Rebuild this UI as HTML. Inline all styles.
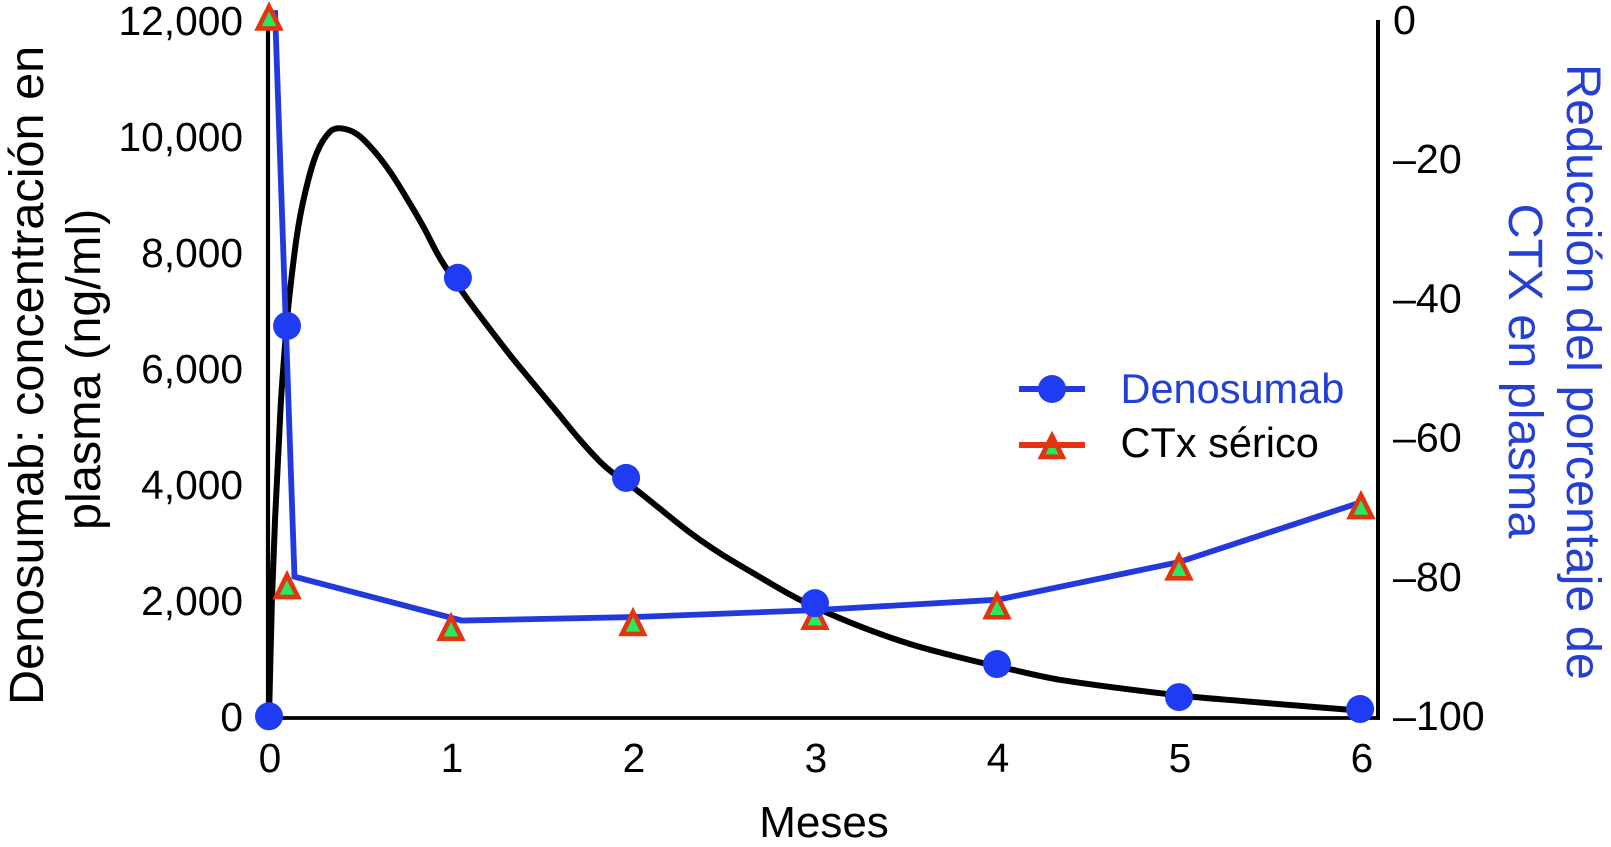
<!DOCTYPE html>
<html lang="es">
<head>
<meta charset="utf-8">
<title>Denosumab y CTx sérico</title>
<style>
html,body{margin:0;padding:0;background:#fff;}
body{width:1611px;height:847px;overflow:hidden;}
svg{display:block;}
text{font-family:"Liberation Sans",Arial,sans-serif;fill:#000;}
</style>
</head>
<body>
<svg id="chart" xmlns="http://www.w3.org/2000/svg" width="1611" height="847" viewBox="0 0 1611 847">
  <rect x="0" y="0" width="1611" height="847" fill="#ffffff"/>
  <g id="axes"></g>
  <g id="ticks"></g>
  <g id="marks"></g>

  <text transform="translate(43,705) rotate(-90)" font-size="48.6">Denosumab: concentración en</text>
  <text transform="translate(100,530) rotate(-90)" font-size="48.6">plasma (ng/ml)</text>
  <text transform="translate(1567,64) rotate(90)" font-size="48.6" style="fill:#2440d4">Reducción del porcentaje de</text>
  <text transform="translate(1509,203.5) rotate(90)" font-size="48.6" style="fill:#2440d4">CTX en plasma</text>
  <text x="824" y="837" font-size="44" text-anchor="middle">Meses</text>

  <g>
    <g>
      <line x1="1019" y1="389" x2="1085" y2="389" stroke="#2239dc" stroke-width="6"/>
      <circle cx="1052" cy="389" r="14" fill="#1f3cf2"/>
      <text x="1120.5" y="403" font-size="41.5" style="fill:#2440d4">Denosumab</text>
    </g>
    <g>
      <path d="M1052 436 L1062.6 456.8 L1041.4 456.8 Z" fill="#1fe860" stroke="#e2350f" stroke-width="4.8"/>
      <line x1="1019" y1="445" x2="1085" y2="445" stroke="#e2350f" stroke-width="6"/>
      <text x="1120.5" y="457" font-size="41.5">CTx sérico</text>
    </g>
  </g>
</svg>
<script>
// Axis tick values and labels
var monthTicks = [0, 1, 2, 3, 4, 5, 6];
var concentrationTicks = [0, 2000, 4000, 6000, 8000, 10000, 12000];
var concentrationLabels = ['0', '2,000', '4,000', '6,000', '8,000', '10,000', '12,000'];
var reductionTicks = [0, -20, -40, -60, -80, -100];
var reductionLabels = ['0', '–20', '–40', '–60', '–80', '–100'];

// Denosumab concentration curve (black)
var curveMonths = [0, 0.005, 0.016, 0.033, 0.055, 0.066, 0.088, 0.106, 0.152, 0.198, 0.262, 0.335, 0.394, 0.482, 0.573, 0.665, 0.757, 0.848, 0.94, 1.068, 1.197, 1.324, 1.452, 1.581, 1.709, 1.819, 1.892, 2.02, 2.295, 2.478, 2.659, 2.845, 3, 3.264, 3.538, 3.813, 4.09, 4.363, 5, 5.357, 5.951];
var curveValues = [0, 650, 2030, 3410, 4790, 5480, 6430, 7090, 8290, 9050, 9740, 10109, 10167, 10069, 9793, 9419, 8960, 8471, 7926, 7322, 6776, 6259, 5771, 5281, 4793, 4419, 4219, 3930, 3240, 2840, 2500, 2160, 1910, 1560, 1260, 1030, 828, 650, 390, 290, 138];

// Denosumab sampled points (blue circles)
var denosumabMonths = [0, 0.099, 1.038, 1.962, 3, 4, 5, 5.995];
var denosumabValues = [30, 6760, 7590, 4140, 1980, 930, 360, 155];

// CTx percentage reduction: line vertices (blue)
var ctxLineMonths = [0.033, 0.14, 1.06, 2, 3, 4.005, 5, 6];
var ctxLineValues = [1.7, -79.7, -86, -85.5, -84.5, -83, -77.6, -69];

// CTx sampled points (triangles)
var ctxMonths = [0, 0.099, 1, 2, 3, 4, 5, 6];
var ctxValues = [0.8, -80.9, -86.9, -86.2, -85.3, -83.8, -78.2, -69.4];

var NS = 'http://www.w3.org/2000/svg';
var axesGroup = document.getElementById('axes');
var ticksGroup = document.getElementById('ticks');
var marksGroup = document.getElementById('marks');

var plotLeft = 268, plotRight = 1378, plotBottom = 718, plotTop = 22;
var xOrigin = 269, xPerMonth = 182;

function xScale(m) { return xOrigin + m * xPerMonth; }
function yLeft(v) { return plotBottom - (v / 12000) * (plotBottom - plotTop); }
function yRight(v) { return plotTop + (-v / 100) * (plotBottom - plotTop); }

function mk(tag, attrs, parent) {
  var el = document.createElementNS(NS, tag);
  for (var k in attrs) { el.setAttribute(k, attrs[k]); }
  parent.appendChild(el);
  return el;
}

// Smooth path whose handles follow the local tangent and scale with each segment's length
function tangent(pts, i) {
  var a = pts[Math.max(i - 1, 0)], b = pts[Math.min(i + 1, pts.length - 1)];
  var dx = b[0] - a[0], dy = b[1] - a[1], len = Math.sqrt(dx * dx + dy * dy) || 1;
  return [dx / len, dy / len];
}
function smoothPath(pts) {
  var d = 'M' + pts[0][0].toFixed(2) + ' ' + pts[0][1].toFixed(2);
  for (var i = 0; i < pts.length - 1; i++) {
    var p1 = pts[i], p2 = pts[i + 1];
    var seg = Math.sqrt(Math.pow(p2[0] - p1[0], 2) + Math.pow(p2[1] - p1[1], 2)) / 3;
    var t1 = tangent(pts, i), t2 = tangent(pts, i + 1);
    d += 'C' + (p1[0] + t1[0] * seg).toFixed(2) + ' ' + (p1[1] + t1[1] * seg).toFixed(2) + ' ' + (p2[0] - t2[0] * seg).toFixed(2) + ' ' + (p2[1] - t2[1] * seg).toFixed(2) + ' ' + p2[0].toFixed(2) + ' ' + p2[1].toFixed(2);
  }
  return d;
}

// Axes
var leftAxis = mk('line', {x1: plotLeft, y1: 24, x2: plotLeft, y2: plotBottom + 1.7, stroke: '#000', 'stroke-width': 4.2}, axesGroup);


var rightAxis = mk('line', {x1: plotRight, y1: 20, x2: plotRight, y2: plotBottom + 1.7, stroke: '#000', 'stroke-width': 4}, axesGroup);


var xAxis = mk('line', {x1: plotLeft, y1: plotBottom, x2: plotRight + 2, y2: plotBottom, stroke: '#000', 'stroke-width': 3.8}, axesGroup);



// Tick labels
monthTicks.forEach(function (m) {
  var t = mk('text', {x: xScale(m) + 1, y: 772, 'font-size': 40.7, 'text-anchor': 'middle'}, ticksGroup);
  
  
  t.textContent = String(m);
});
concentrationTicks.forEach(function (v, i) {
  var t = mk('text', {x: 243, y: yLeft(v) + 13, 'font-size': 40.7, 'text-anchor': 'end'}, ticksGroup);
  
  
  t.textContent = concentrationLabels[i];
});
reductionTicks.forEach(function (v, i) {
  var t = mk('text', {x: 1393, y: yRight(v) + 12, 'font-size': 41.2, 'text-anchor': 'start'}, ticksGroup);
  
  
  t.textContent = reductionLabels[i];
});

// Black concentration curve
var curvePts = curveMonths.map(function (m, i) { return [xScale(m), yLeft(curveValues[i])]; });
var curve = mk('path', {d: smoothPath(curvePts), fill: 'none', stroke: '#000', 'stroke-width': 6, 'stroke-linejoin': 'round'}, marksGroup);



// Blue CTx line
var ctxPts = ctxLineMonths.map(function (m, i) { return xScale(m).toFixed(2) + ',' + yRight(ctxLineValues[i]).toFixed(2); }).join(' ');
var ctxLine = mk('polyline', {points: ctxPts, fill: 'none', stroke: '#2239dc', 'stroke-width': 5.8, 'stroke-linejoin': 'miter'}, marksGroup);



// CTx triangles
ctxMonths.forEach(function (m, i) {
  var cx = xScale(m), cy = yRight(ctxValues[i]);
  var d = 'M' + cx + ' ' + (cy - 10) + 'L' + (cx + 11) + ' ' + (cy + 12) + 'L' + (cx - 11) + ' ' + (cy + 12) + 'Z';
  var tri = mk('path', {d: d, fill: '#25ea62', stroke: '#e2350f', 'stroke-width': 4.6}, marksGroup);
  
  
});

// Denosumab circles
denosumabMonths.forEach(function (m, i) {
  var c = mk('circle', {cx: xScale(m), cy: yLeft(denosumabValues[i]), r: 14, fill: '#1f3cf2'}, marksGroup);
  
  
});
</script>
</body>
</html>
